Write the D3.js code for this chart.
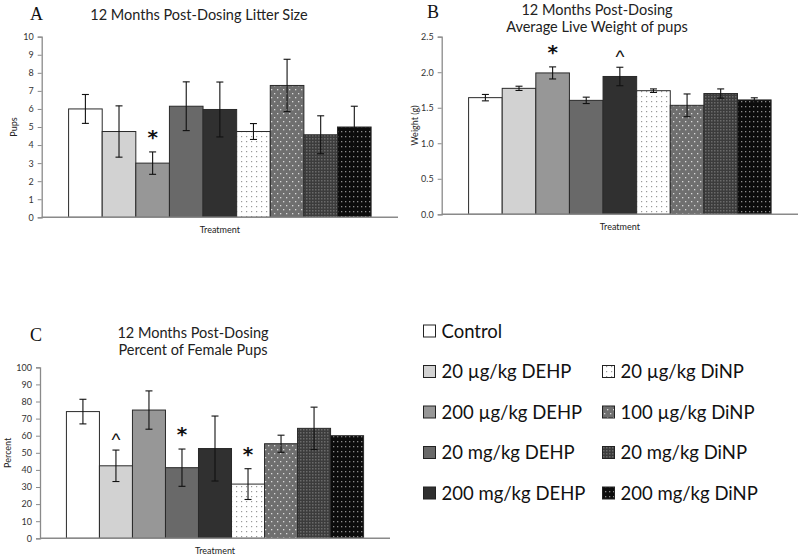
<!DOCTYPE html>
<html><head><meta charset="utf-8">
<script src="https://cdn.jsdelivr.net/npm/d3@7"></script>
<style>
html,body{margin:0;padding:0;background:#fff;}
svg{display:block;}
</style></head>
<body>
<svg id="chart" width="800" height="558" font-family="Lato, 'Open Sans', sans-serif"></svg>
<script>
// ---- DATA ----
const categories = ["Control","20 µg/kg DEHP","200 µg/kg DEHP","20 mg/kg DEHP","200 mg/kg DEHP","20 µg/kg DiNP","100 µg/kg DiNP","20 mg/kg DiNP","200 mg/kg DiNP"];
const litterSize    = [6.0, 4.75, 3.0, 6.15, 5.97, 4.75, 7.3, 4.57, 5.0];
const litterSem     = [0.8, 1.42, 0.62, 1.35, 1.52, 0.44, 1.45, 1.05, 1.15];
const pupWeight     = [1.642, 1.773, 1.99, 1.604, 1.94, 1.74, 1.534, 1.70, 1.61];
const pupWeightSem  = [0.045, 0.03, 0.085, 0.045, 0.13, 0.025, 0.16, 0.065, 0.03];
const femalePct     = [74.1, 42.4, 75.0, 41.3, 52.5, 31.7, 55.3, 64.3, 60.0];
const femalePctSem  = [7.2, 9.2, 11.2, 10.9, 19.0, 9.0, 5.0, 12.4, 0];
const litterMarks   = ["", "", "*", "", "", "", "", "", ""];
const weightMarks   = ["", "", "*", "", "^", "", "", "", ""];
const femaleMarks   = ["", "^", "", "*", "", "*", "", "", ""];
const litterTicks   = [0,1,2,3,4,5,6,7,8,9,10];
const weightTicks   = [0,0.5,1.0,1.5,2.0,2.5];
const femaleTicks   = [0,10,20,30,40,50,60,70,80,90,100];

const svg = d3.select("#chart");
const defs = svg.append("defs");

// ---- fills ----
function pat(id, w, h, bg, dots, dotColor, ds){
  const p = defs.append("pattern").attr("id",id).attr("patternUnits","userSpaceOnUse").attr("width",w).attr("height",h);
  p.append("rect").attr("width",w).attr("height",h).attr("fill",bg);
  dots.forEach(d=>p.append("rect").attr("x",d[0]).attr("y",d[1]).attr("width",ds).attr("height",ds).attr("fill",dotColor));
}
pat("p20ug", 5, 5, "#ffffff", [[1,1]], "#9a9a9a", 1.2);
pat("p100ug", 6, 8, "#6f6f6f", [[1,1],[4,5]], "#d8d8d8", 1.3);
pat("p20mg", 3, 3, "#3c3c3c", [[0,0]], "#6a6a6a", 1.5);
pat("p200mg", 4, 5, "#0c0c0c", [[1,1]], "#8a8a8a", 1.3);

const fills = ["#ffffff","#d2d2d2","#979797","#696969","#303030","url(#p20ug)","url(#p100ug)","url(#p20mg)","url(#p200mg)"];

// ---- panels ----
function panel(cfg){
  const g = svg.append("g");
  const x = d3.scaleBand().domain(categories).range([cfg.x0, cfg.x1]).paddingInner(0).paddingOuter(0.8);
  const y = d3.scaleLinear().domain([cfg.ticks[0], cfg.ticks[cfg.ticks.length-1]]).range([cfg.yb, cfg.yt]);

  g.selectAll("rect.bar").data(cfg.values).join("rect")
    .attr("class","bar")
    .attr("x",(d,i)=>x(categories[i]))
    .attr("width",x.bandwidth())
    .attr("y",d=>y(d))
    .attr("height",d=>y(0)-y(d))
    .attr("fill",(d,i)=>fills[i])
    .attr("stroke","#2a2a2a").attr("stroke-width",1);

  const cap = 3.5;
  cfg.values.forEach((v,i)=>{
    const s = cfg.sem[i];
    if(!s) return;
    const cx = x(categories[i]) + x.bandwidth()/2;
    const eg = g.append("g").attr("stroke","#111").attr("stroke-width",1.1);
    eg.append("line").attr("x1",cx).attr("x2",cx).attr("y1",y(v+s)).attr("y2",y(v-s));
    eg.append("line").attr("x1",cx-cap).attr("x2",cx+cap).attr("y1",y(v+s)).attr("y2",y(v+s));
    eg.append("line").attr("x1",cx-cap).attr("x2",cx+cap).attr("y1",y(v-s)).attr("y2",y(v-s));
  });

  cfg.marks.forEach((m,i)=>{
    if(!m) return;
    const cx = x(categories[i]) + x.bandwidth()/2;
    const top = y(cfg.values[i] + (cfg.sem[i]||0));
    if(m==="*"){
      g.append("text").attr("x",cx).attr("y", top - 8)
        .attr("text-anchor","middle").attr("font-size",20).attr("font-weight","bold")
        .attr("fill","#111").attr("font-family","'DejaVu Sans',sans-serif").text(m);
    } else {
      g.append("text").attr("x",cx).attr("y", top - 4)
        .attr("text-anchor","middle").attr("font-size",19)
        .attr("fill","#111").attr("font-family","'Liberation Sans',sans-serif").text(m);
    }
  });

  const ya = g.append("g").attr("transform",`translate(${cfg.x0},0)`)
    .call(d3.axisLeft(y).tickValues(cfg.ticks).tickSize(4).tickPadding(4).tickFormat(cfg.fmt));
  ya.attr("font-family","Lato, sans-serif").attr("font-size",9);
  ya.select(".domain").attr("stroke","#8a8a8a").attr("stroke-width",1.3);
  ya.selectAll(".tick line").attr("stroke","#8a8a8a");
  ya.selectAll(".tick text").attr("fill","#333");

  g.append("line").attr("x1",cfg.x0).attr("x2",cfg.x1).attr("y1",y(0)).attr("y2",y(0))
    .attr("stroke","#8a8a8a").attr("stroke-width",1.5);

  g.append("text").attr("x",(cfg.x0+cfg.x1)/2).attr("y",y(0)+16).attr("text-anchor","middle")
    .attr("font-size",9).attr("fill","#222").text("Treatment");
  g.append("text").attr("transform",`translate(${cfg.ylx},${(cfg.yt+cfg.yb)/2}) rotate(-90)`)
    .attr("text-anchor","middle").attr("font-size",9).attr("fill","#222").text(cfg.ylabel);
  cfg.title.forEach((t,k)=>{
    g.append("text").attr("x",cfg.tx).attr("y",cfg.ty + k*16.5).attr("text-anchor","middle")
      .attr("font-size",14.5).attr("fill","#222").text(t);
  });
  g.append("text").attr("x",cfg.lx).attr("y",cfg.ly).attr("font-size",18)
    .attr("font-family","'Liberation Serif', serif").attr("fill","#111").text(cfg.letter);
}

panel({letter:"A", lx:30, ly:20, title:["12 Months Post-Dosing Litter Size"], tx:199, ty:20,
  x0:41.7, x1:398, yt:36.7, yb:217.3, ticks:litterTicks, fmt:d3.format("d"),
  values:litterSize, sem:litterSem, marks:litterMarks, ylabel:"Pups", ylx:17});
panel({letter:"B", lx:427, ly:18, title:["12 Months Post-Dosing","Average Live Weight of pups"], tx:597, ty:15,
  x0:441.7, x1:798, yt:36.7, yb:214.3, ticks:weightTicks, fmt:d3.format(".1f"),
  values:pupWeight, sem:pupWeightSem, marks:weightMarks, ylabel:"Weight (g)", ylx:418});
panel({letter:"C", lx:30, ly:341, title:["12 Months Post-Dosing","Percent of Female Pups"], tx:193, ty:338,
  x0:40, x1:390, yt:367.3, yb:538.3, ticks:femaleTicks, fmt:d3.format("d"),
  values:femalePct, sem:femalePctSem, marks:femaleMarks, ylabel:"Percent", ylx:11});

// ---- legend ----
const legendRows = [[0],[1,5],[2,6],[3,7],[4,8]];
const lg = svg.append("g");
legendRows.forEach((row,r)=>{
  row.forEach((ci,c)=>{
    const bx = c===0 ? 423.5 : 602.5;
    const cy = 331 + r*40.5;
    lg.append("rect").attr("x",bx).attr("y",cy-6).attr("width",12).attr("height",12)
      .attr("fill",fills[ci]).attr("stroke","#222").attr("stroke-width",1);
    lg.append("text").attr("x",bx+18).attr("y",cy+6.5).attr("font-size",18.5).attr("fill","#111").text(categories[ci]);
  });
});
</script>
</body></html>
